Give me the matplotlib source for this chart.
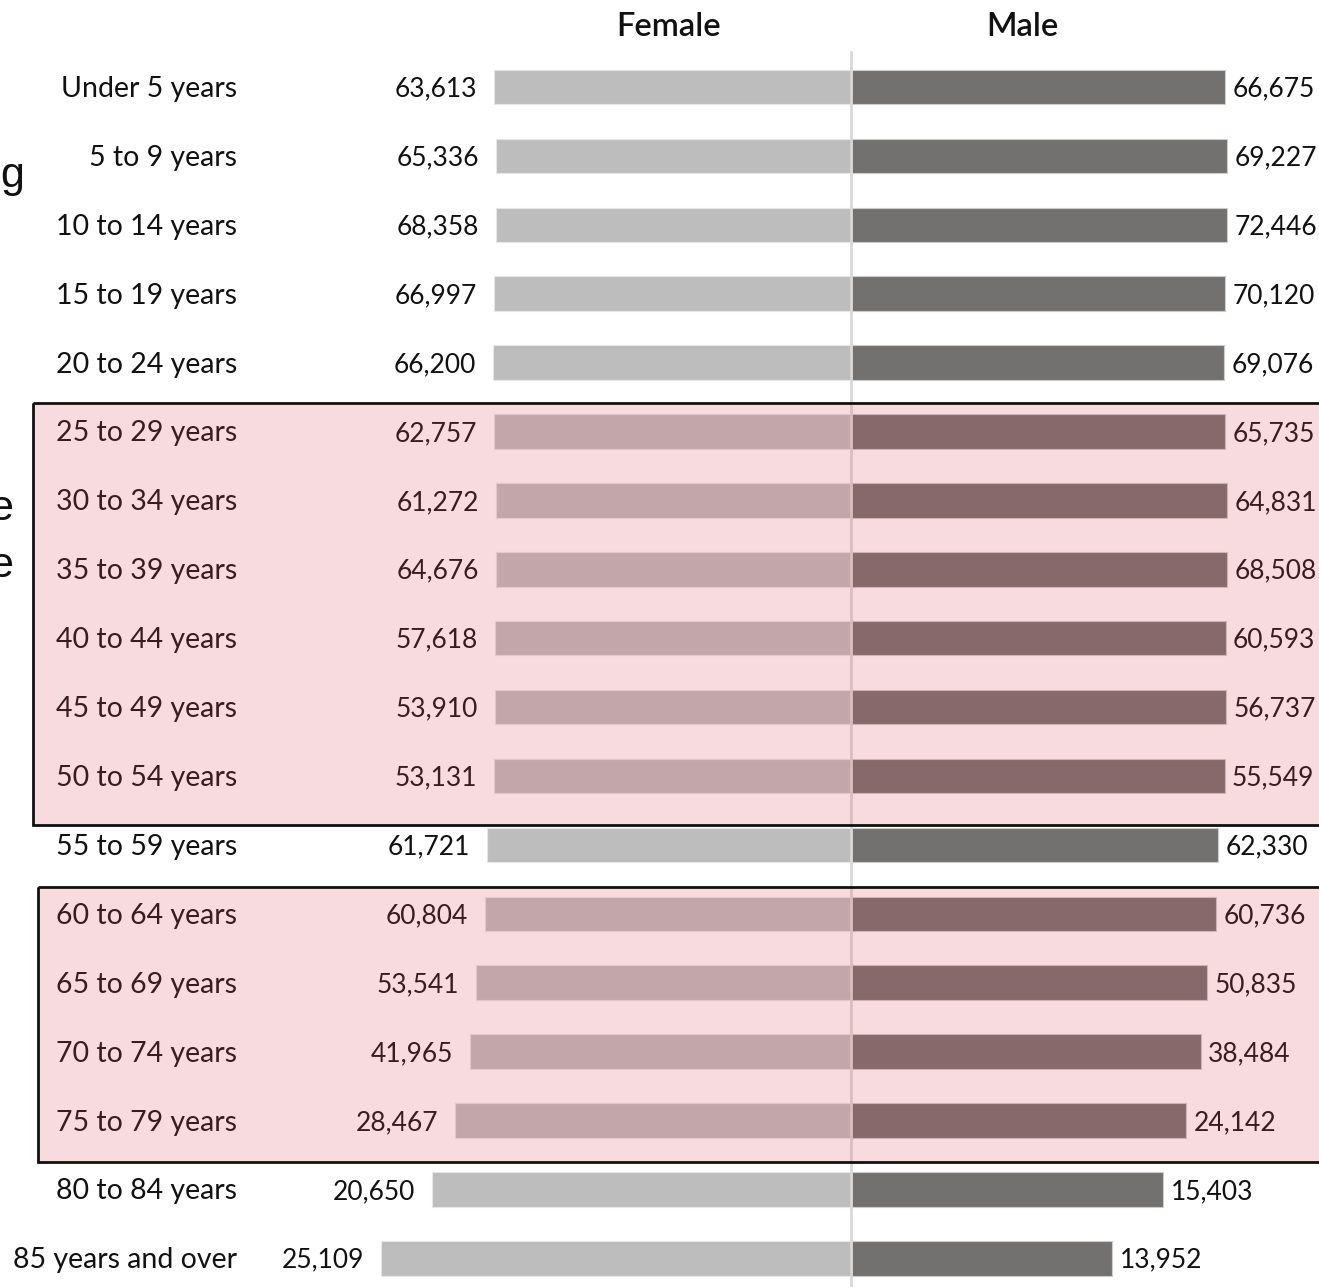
import matplotlib
matplotlib.use("Agg")
import matplotlib.pyplot as plt
from matplotlib.patches import Rectangle
import numpy as np

categories = ["Under 5 years", "5 to 9 years", "10 to 14 years", "15 to 19 years",
              "20 to 24 years", "25 to 29 years", "30 to 34 years", "35 to 39 years",
              "40 to 44 years", "45 to 49 years", "50 to 54 years", "55 to 59 years",
              "60 to 64 years", "65 to 69 years", "70 to 74 years", "75 to 79 years",
              "80 to 84 years", "85 years and over"]
female = [63613, 65336, 68358, 66997, 66200, 62757, 61272, 64676, 57618, 53910,
          53131, 61721, 60804, 53541, 41965, 28467, 20650, 25109]
male = [66675, 69227, 72446, 70120, 69076, 65735, 64831, 68508, 60593, 56737,
        55549, 62330, 60736, 50835, 38484, 24142, 15403, 13952]
highlight_groups = [(5, 10), (12, 15)]  # first and last row index of shaded blocks

plt.rcParams['font.family'] = ['Lato', 'DejaVu Sans']

W, H = 1319, 1287
fig = plt.figure(figsize=(W / 100, H / 100), dpi=100)
ax = fig.add_axes([0, 0, 1, 1])

pxu = 7.31          # pixels per percent
cx = 851            # center pixel
row0, rowsp = 87, 68.9
ax.set_xlim(-cx / pxu, (W - cx) / pxu)
ax.set_ylim((H - row0) / rowsp, -row0 / rowsp)
ax.axis('off')

f = np.array(female, float)
m = np.array(male, float)
fshare = f / (f + m) * 100
mshare = m / (f + m) * 100
y = np.arange(len(categories))

ax.barh(y, -fshare, height=0.5, color='#bdbdbd', edgecolor='#e6e6e6', linewidth=0.8, zorder=2)
ax.barh(y, mshare, height=0.5, color='#737070', edgecolor='#cccccc', linewidth=0.8, zorder=2)

# center line
ax.plot([0, 0], [(52 - row0) / rowsp, (H - row0) / rowsp], color='#d9d9d9', lw=2, zorder=3)

dy = 2 / rowsp
for i, cat in enumerate(categories):
    ax.text(-84.0, i + dy, cat, ha='right', va='center', fontsize=20.5, color='#111111', zorder=4)
    ax.text(-fshare[i] - 2.3, i + dy, f"{female[i]:,}", ha='right', va='center', fontsize=19,
            color='#111111', zorder=4)
    ax.text(mshare[i] + 1.0, i + dy, f"{male[i]:,}", ha='left', va='center', fontsize=19,
            color='#111111', zorder=4)

hy = (27 - row0) / rowsp
ax.text(-25.0, hy, "Female", ha='center', va='center', fontsize=23.5, fontweight='semibold', color='#111111')
ax.text(23.4, hy, "Male", ha='center', va='center', fontsize=23.5, fontweight='semibold', color='#111111')

# cut-off annotation letters at left edge
ax.text((24 - cx) / pxu, (187 - row0) / rowsp, "g", ha='right', va='baseline', fontsize=31,
        family='Liberation Sans', color='#111111')
ax.text((13 - cx) / pxu, (520 - row0) / rowsp, "e", ha='right', va='baseline', fontsize=31,
        family='Liberation Sans', color='#111111')
ax.text((13 - cx) / pxu, (577 - row0) / rowsp, "e", ha='right', va='baseline', fontsize=31,
        family='Liberation Sans', color='#111111')

# highlight boxes (translucent overlay)
box_specs = [(highlight_groups[0], -111.9, 0.414, 0.711), (highlight_groups[1], -111.2, 0.389, 0.602)]
for (a, b), xl, top_off, bot_off in box_specs:
    y0 = a - top_off
    y1 = b + bot_off
    ax.add_patch(Rectangle((xl, y0), 200, y1 - y0, facecolor=(0.86, 0.30, 0.36, 0.2),
                           edgecolor='none', zorder=5))
    ax.add_patch(Rectangle((xl, y0), 200, y1 - y0, facecolor='none',
                           edgecolor='#111111', linewidth=2, zorder=6))

fig.savefig("out.png", dpi=100)
